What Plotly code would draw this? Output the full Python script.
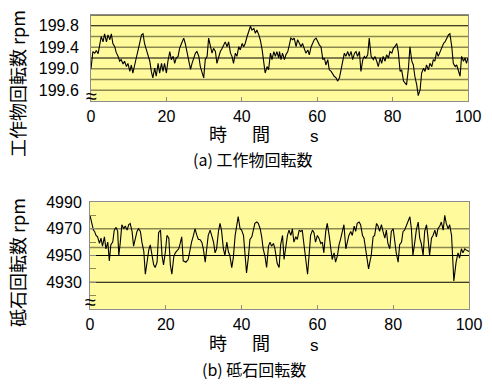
import plotly.graph_objects as go

# ---------------- data ----------------
# (a) work-piece rotation speed, rpm  (time s, value)
work_rpm = [
    (0.0, 199.00), (0.5, 199.32), (1.0, 199.29), (1.4, 199.34), (1.9, 199.28), (2.3, 199.47),
    (2.7, 199.60), (3.2, 199.50), (3.6, 199.65), (4.1, 199.50), (4.5, 199.63), (5.0, 199.54),
    (5.4, 199.65), (5.8, 199.47), (6.3, 199.41), (6.7, 199.30), (7.2, 199.23), (7.6, 199.14),
    (8.0, 199.17), (8.5, 199.09), (8.9, 199.14), (9.4, 199.04), (9.8, 199.10), (10.3, 198.95),
    (10.7, 199.07), (11.1, 198.92), (11.6, 199.10), (12.0, 199.20), (12.5, 199.35), (12.9, 199.47),
    (13.4, 199.63), (13.8, 199.65), (14.2, 199.47), (14.7, 199.35), (15.1, 199.26), (15.6, 199.14),
    (16.0, 198.95), (16.4, 198.83), (16.9, 199.01), (17.3, 198.86), (17.8, 199.10), (18.2, 198.92),
    (18.7, 199.10), (19.1, 198.95), (19.5, 199.10), (20.0, 198.92), (20.4, 199.14), (20.9, 199.32),
    (21.3, 199.17), (21.8, 199.23), (22.2, 199.10), (22.6, 199.20), (23.1, 199.23), (23.5, 199.38),
    (24.0, 199.47), (24.6, 199.57), (25.0, 199.47), (25.5, 199.29), (25.9, 199.17), (26.4, 198.99),
    (26.8, 199.10), (27.2, 199.17), (27.7, 199.29), (28.1, 199.32), (28.6, 199.23), (29.0, 199.04),
    (29.4, 198.95), (29.9, 198.83), (30.3, 199.17), (30.8, 199.23), (31.2, 199.57), (31.7, 199.41),
    (32.1, 199.29), (32.5, 199.38), (33.0, 199.32), (33.4, 199.10), (33.9, 199.23), (34.3, 199.32),
    (34.8, 199.38), (35.2, 199.44), (35.6, 199.50), (36.1, 199.41), (36.5, 199.50), (37.0, 199.29),
    (37.4, 199.23), (37.8, 199.10), (38.3, 199.29), (38.7, 199.23), (39.2, 199.41), (39.6, 199.35),
    (40.1, 199.47), (40.5, 199.41), (40.9, 199.47), (41.4, 199.60), (41.8, 199.69), (42.3, 199.79),
    (42.7, 199.72), (43.2, 199.75), (43.6, 199.66), (44.0, 199.72), (44.5, 199.63), (44.9, 199.54),
    (45.4, 199.35), (45.8, 199.14), (46.2, 198.92), (46.7, 199.04), (47.1, 198.98), (47.6, 199.29),
    (48.0, 199.17), (48.5, 199.32), (48.9, 199.23), (49.3, 199.32), (49.8, 199.20), (50.0, 199.32),
    (50.4, 199.17), (50.8, 199.29), (51.3, 199.17), (51.7, 199.26), (52.2, 199.32), (52.6, 199.44),
    (53.0, 199.57), (53.5, 199.54), (53.9, 199.57), (54.4, 199.41), (54.8, 199.54), (55.3, 199.47),
    (55.7, 199.41), (56.1, 199.47), (56.6, 199.38), (57.0, 199.29), (57.5, 199.35), (57.9, 199.26),
    (58.4, 199.41), (58.8, 199.47), (59.2, 199.54), (59.7, 199.57), (60.1, 199.50), (60.6, 199.44),
    (61.0, 199.41), (61.5, 199.17), (61.9, 199.20), (62.3, 199.07), (62.8, 199.17), (63.2, 198.98),
    (63.7, 198.95), (64.1, 198.89), (64.5, 198.86), (65.0, 198.83), (65.4, 198.77), (65.9, 198.83),
    (66.3, 198.98), (66.8, 199.14), (67.2, 199.29), (67.6, 199.23), (68.1, 199.32), (68.5, 199.23),
    (69.0, 199.32), (69.4, 199.17), (69.9, 199.29), (70.3, 199.32), (70.7, 199.23), (71.2, 199.32),
    (71.6, 198.95), (72.1, 199.17), (72.5, 199.23), (72.9, 199.20), (73.4, 199.26), (73.8, 199.57),
    (74.3, 199.23), (74.9, 199.17), (75.3, 199.23), (75.8, 199.14), (76.2, 199.04), (76.7, 199.20),
    (77.1, 199.10), (77.5, 199.23), (78.0, 199.14), (78.4, 199.26), (78.9, 199.20), (79.3, 199.32),
    (79.8, 199.29), (80.2, 199.38), (80.6, 199.41), (81.1, 199.47), (81.5, 199.32), (82.0, 198.95),
    (82.4, 198.98), (82.9, 198.77), (83.3, 198.74), (83.7, 198.70), (84.2, 199.01), (84.6, 199.41),
    (85.1, 199.14), (85.5, 199.07), (85.9, 198.86), (86.4, 198.70), (86.8, 198.50), (87.3, 198.61),
    (87.7, 198.92), (88.2, 199.01), (88.6, 198.95), (89.0, 199.07), (89.5, 198.98), (89.9, 199.10),
    (90.4, 199.04), (90.8, 199.17), (91.2, 199.14), (91.7, 199.32), (92.1, 199.23), (92.6, 199.32),
    (93.0, 199.41), (93.5, 199.47), (93.9, 199.50), (94.3, 199.57), (94.8, 199.63), (95.2, 199.65),
    (95.7, 199.41), (96.1, 199.10), (96.6, 199.04), (97.0, 199.07), (97.4, 198.95), (97.9, 198.86),
    (98.3, 199.23), (98.8, 199.14), (99.2, 199.20), (99.6, 199.10), (100.0, 199.20),
]

# (b) grinding-wheel rotation speed, rpm  (time s, value)
wheel_rpm = [
    (0.0, 4980), (0.5, 4973), (0.9, 4969), (1.2, 4968), (1.6, 4965), (2.0, 4964), (2.5, 4959),
    (2.9, 4963), (3.3, 4957), (3.8, 4964), (4.2, 4955), (4.7, 4960), (5.1, 4946), (5.5, 4958),
    (6.0, 4960), (6.4, 4969), (6.9, 4971), (7.3, 4968), (7.6, 4950), (8.0, 4960), (8.4, 4973),
    (8.9, 4970), (9.3, 4972), (9.8, 4969), (10.2, 4973), (10.6, 4974), (11.1, 4968), (11.5, 4957),
    (12.0, 4963), (12.4, 4968), (12.8, 4970), (13.3, 4968), (13.7, 4960), (14.2, 4953), (14.6, 4936),
    (15.0, 4945), (15.5, 4954), (15.9, 4958), (16.4, 4949), (16.8, 4943), (17.2, 4941), (17.7, 4945),
    (18.1, 4967), (18.6, 4969), (19.0, 4950), (19.4, 4943), (19.9, 4953), (20.3, 4965), (20.8, 4963),
    (21.2, 4943), (21.6, 4936), (22.1, 4949), (22.5, 4952), (23.0, 4954), (23.4, 4955), (23.8, 4959),
    (24.2, 4964), (24.6, 4946), (25.3, 4945), (25.9, 4947), (26.4, 4955), (26.8, 4960), (27.3, 4965),
    (27.7, 4970), (28.2, 4965), (28.6, 4962), (29.0, 4962), (29.5, 4960), (29.9, 4955), (30.4, 4945),
    (30.8, 4955), (31.2, 4965), (31.7, 4969), (32.1, 4965), (32.6, 4960), (33.0, 4952), (33.4, 4955),
    (33.9, 4968), (34.3, 4974), (34.7, 4969), (35.2, 4955), (35.6, 4950), (36.1, 4960), (36.5, 4953),
    (36.9, 4950), (37.4, 4941), (37.8, 4948), (38.3, 4965), (38.7, 4972), (39.1, 4979), (39.6, 4970),
    (40.0, 4969), (40.5, 4965), (40.9, 4953), (41.3, 4937), (41.8, 4949), (42.2, 4962), (42.7, 4964),
    (43.1, 4970), (43.5, 4974), (44.0, 4975), (44.4, 4974), (44.9, 4970), (45.3, 4964), (45.7, 4955),
    (46.2, 4949), (46.6, 4941), (47.1, 4957), (47.5, 4960), (47.9, 4957), (48.4, 4959), (48.8, 4955),
    (49.4, 4944), (49.9, 4941), (50.3, 4958), (50.8, 4965), (51.2, 4947), (51.6, 4955), (52.1, 4965),
    (52.5, 4969), (53.0, 4965), (53.4, 4970), (53.8, 4960), (54.3, 4964), (54.7, 4962), (55.2, 4969),
    (55.6, 4968), (56.0, 4969), (56.5, 4958), (56.9, 4949), (57.4, 4936), (57.8, 4950), (58.2, 4965),
    (58.7, 4969), (59.1, 4967), (59.5, 4960), (60.0, 4965), (60.4, 4963), (60.9, 4959), (61.3, 4960),
    (61.7, 4952), (62.2, 4968), (62.6, 4974), (63.1, 4965), (63.5, 4955), (63.9, 4947), (64.4, 4952),
    (64.8, 4945), (65.3, 4950), (65.7, 4958), (66.1, 4962), (66.6, 4968), (67.0, 4973), (67.5, 4955),
    (67.9, 4960), (68.3, 4965), (68.8, 4968), (69.2, 4965), (69.7, 4972), (70.1, 4968), (70.5, 4974),
    (71.0, 4975), (71.4, 4973), (71.9, 4965), (72.3, 4963), (72.7, 4955), (73.2, 4945), (73.5, 4940),
    (73.9, 4946), (74.2, 4950), (74.7, 4964), (75.1, 4965), (75.6, 4974), (76.0, 4972), (76.4, 4968),
    (76.9, 4973), (77.3, 4968), (77.8, 4963), (78.2, 4969), (78.6, 4959), (79.1, 4955), (79.5, 4968),
    (80.0, 4970), (80.4, 4960), (80.8, 4952), (81.3, 4945), (81.7, 4958), (82.2, 4960), (82.6, 4968),
    (83.0, 4969), (83.5, 4973), (83.9, 4975), (84.4, 4979), (84.8, 4970), (85.2, 4950), (85.7, 4960),
    (86.1, 4969), (86.6, 4975), (87.0, 4963), (87.4, 4959), (87.9, 4950), (88.3, 4968), (88.8, 4973),
    (89.2, 4963), (89.6, 4950), (90.1, 4963), (90.5, 4965), (91.0, 4969), (91.4, 4964), (91.8, 4970),
    (92.3, 4972), (92.7, 4975), (93.2, 4969), (93.6, 4980), (94.0, 4974), (94.5, 4970), (94.9, 4973),
    (95.4, 4965), (95.8, 4948), (96.0, 4931), (96.6, 4945), (97.1, 4952), (97.5, 4948), (98.0, 4955),
    (98.4, 4952), (98.9, 4955), (99.3, 4954), (100.0, 4953),
]

x_ticks = [0, 20, 40, 60, 80, 100]
top_tick_vals = [199.8, 199.4, 199.0, 198.6]
top_tick_text = ["199.8", "199.4", "199.0", "199.6"]
top_grid_dark = [200.0, 199.8, 199.2]
top_grid_olive = [199.6, 199.4, 199.0, 198.8, 198.6]
bot_tick_vals = [4990, 4970, 4950, 4930]
bot_tick_text = ["4990", "4970", "4950", "4930"]
bot_grid_dark = [4950, 4930]
bot_grid_olive = [4970, 4956]

title_top_y = "工作物回転数 rpm"
title_bot_y = "砥石回転数 rpm"
caption_top = "(a) 工作物回転数"
caption_bot = "(b) 砥石回転数"
x_title_parts = ["時", "間", "s"]

# ---------------- figure ----------------
W, H = 492, 384
FONT = "Liberation Sans, Arial, Noto Sans CJK JP, sans-serif"
JFONT = "Noto Sans CJK JP, sans-serif"
BG = "#FFFA9C"
OLIVE = "#8A8850"
AXIS_GRAY = "#8C8C8C"


def px(x):
    return x / W


def py(y):
    return 1 - y / H


fig = go.Figure()
fig.add_trace(go.Scatter(x=[p[0] for p in work_rpm], y=[p[1] for p in work_rpm],
                         mode="lines", line=dict(color="black", width=1.1),
                         xaxis="x", yaxis="y", showlegend=False, hoverinfo="skip"))
fig.add_trace(go.Scatter(x=[p[0] for p in wheel_rpm], y=[p[1] for p in wheel_rpm],
                         mode="lines", line=dict(color="black", width=1.1),
                         xaxis="x2", yaxis="y2", showlegend=False, hoverinfo="skip"))

shapes = []
for v in top_grid_dark:
    shapes.append(dict(type="line", xref="x domain", yref="y", x0=0, x1=1, y0=v, y1=v,
                       line=dict(color="black", width=1), layer="below"))
for v in top_grid_olive:
    shapes.append(dict(type="line", xref="x domain", yref="y", x0=0, x1=1, y0=v, y1=v,
                       line=dict(color=OLIVE, width=1.3), layer="below"))
for v in bot_grid_dark:
    shapes.append(dict(type="line", xref="x2 domain", yref="y2", x0=0, x1=1, y0=v, y1=v,
                       line=dict(color="black", width=1), layer="below"))
for v in bot_grid_olive:
    shapes.append(dict(type="line", xref="x2 domain", yref="y2", x0=0, x1=1, y0=v, y1=v,
                       line=dict(color=OLIVE, width=1.3), layer="below"))

tickfont = dict(family=FONT, size=16, color="black")

axis_common = dict(showgrid=False, zeroline=False, showline=True, linecolor=AXIS_GRAY,
                   linewidth=1, mirror=True, ticks="inside", tickcolor=AXIS_GRAY,
                   tickfont=tickfont, automargin=False)

fig.update_layout(
    template="none",
    width=W, height=H, margin=dict(l=0, r=0, t=0, b=0, pad=0), autosize=False,
    paper_bgcolor="white", plot_bgcolor=BG, showlegend=False,
    xaxis=dict(domain=[px(91), px(468)], range=[0, 100], anchor="y",
               tickvals=x_ticks, ticklen=4, ticklabelstandoff=1, **axis_common),
    yaxis=dict(domain=[py(101), py(15)], range=[198.4, 200.0], anchor="x",
               tickvals=top_tick_vals, ticktext=top_tick_text, ticklen=0,
               ticklabelstandoff=8, **axis_common),
    xaxis2=dict(domain=[px(90), px(469)], range=[0, 100], anchor="y2",
                tickvals=x_ticks, ticklen=4, ticklabelstandoff=1, **axis_common),
    yaxis2=dict(domain=[py(309), py(202)], range=[4910, 4990], anchor="x2",
                tickvals=bot_tick_vals, ticktext=bot_tick_text, ticklen=6,
                ticklabelstandoff=4,
                minor=dict(ticks="inside", tick0=4920, dtick=20, ticklen=6, tickcolor=OLIVE),
                **axis_common),
    shapes=shapes,
)


def label(text, x, y, size, family=JFONT, angle=0):
    return dict(text=text, x=px(x), y=py(y), textangle=angle, showarrow=False,
                xref="paper", yref="paper", xanchor="center", yanchor="middle",
                font=dict(family=family, size=size, color="black"))


ann = [
    label(title_top_y, 17, 84, 18, angle=-90),
    label(title_bot_y, 17, 263, 18, angle=-90),
    label(caption_top, 252, 159, 16),
    label(caption_bot, 254, 369, 16),
    # axis-break marks
    label("≈", 91, 96, 20, family=FONT),
    label("≈", 90, 302, 20, family=FONT),
]
for txt, xx in zip(x_title_parts[:2], [218, 261]):
    ann.append(label(txt, xx, 133, 18))
    ann.append(label(txt, xx, 342, 18))
ann.append(label(x_title_parts[2], 314, 136, 17, family=FONT))
ann.append(label(x_title_parts[2], 314, 345, 17, family=FONT))
fig.update_layout(annotations=ann)

fig.write_html("out.html", config={"displayModeBar": False},
               post_script="document.body.style.margin='0';")
